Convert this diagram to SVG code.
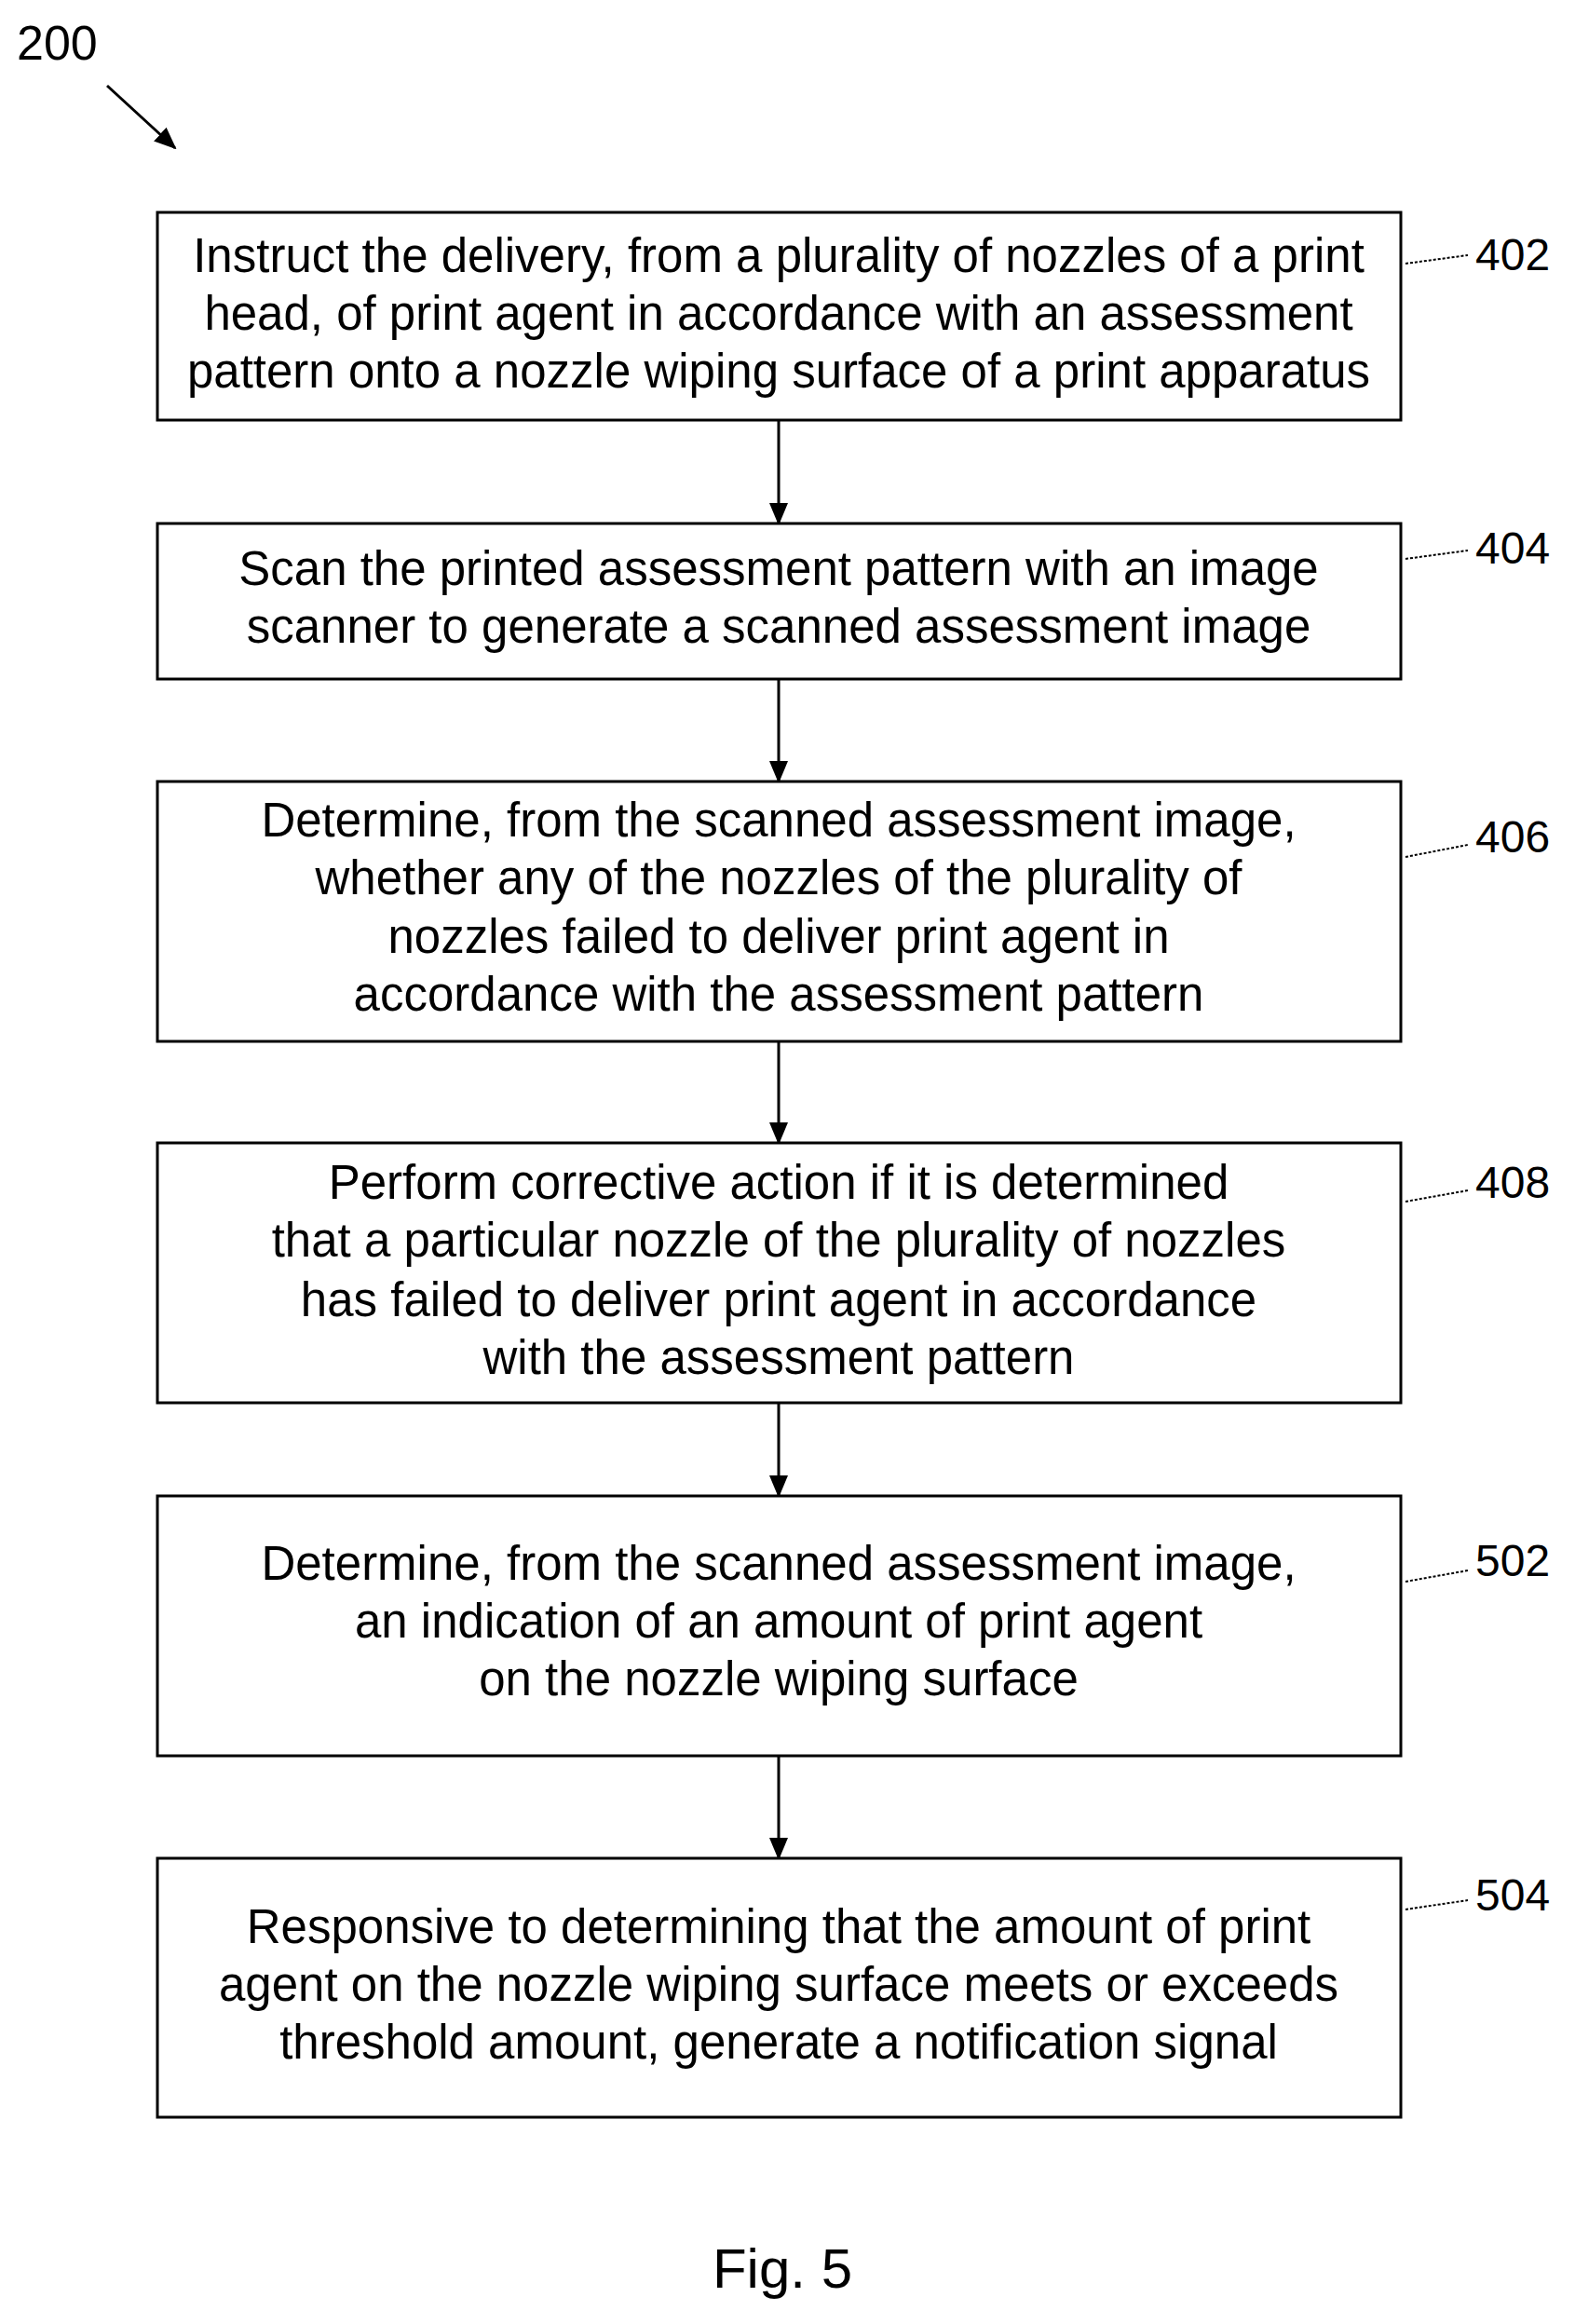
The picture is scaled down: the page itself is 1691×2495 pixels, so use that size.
<svg xmlns="http://www.w3.org/2000/svg" width="1691" height="2495" viewBox="0 0 1691 2495">
<style>
.b{fill:#fff;stroke:#000;stroke-width:3}
.t{font-family:"Liberation Sans",Arial,sans-serif;font-size:51px;text-anchor:middle;fill:#000}
.l{font-family:"Liberation Sans",Arial,sans-serif;font-size:48px;fill:#000}
.c{stroke:#000;stroke-width:3;fill:none}
.d{stroke:#000;stroke-width:2;fill:none;stroke-dasharray:3 2}
</style>
<defs><marker id="m" markerWidth="24" markerHeight="24" refX="22" refY="12" orient="auto" markerUnits="userSpaceOnUse" viewBox="0 0 24 24"><path d="M0,2L24,12L0,22z"/></marker></defs>
<rect width="1691" height="2495" fill="#fff"/>
<text class="l" x="18" y="64" style="font-size:52px">200</text>
<g id="connectors">
<path class="c" d="M115,92L188,159" marker-end="url(#m)"/>
<path class="c" d="M836,451V562" marker-end="url(#m)"/>
<path class="c" d="M836,729V839" marker-end="url(#m)"/>
<path class="c" d="M836,1118V1227" marker-end="url(#m)"/>
<path class="c" d="M836,1506V1606" marker-end="url(#m)"/>
<path class="c" d="M836,1885V1995" marker-end="url(#m)"/>
<path class="d" d="M1509,283L1576,274M1509,600L1576,591M1509,920L1576,907M1509,1290L1576,1278M1509,1698L1576,1686M1509,2050L1576,2040"/>
</g>
<g id="n402"><rect class="b" x="169" y="228" width="1335" height="223"/>
<text class="t" x="836" y="292">Instruct the delivery, from a plurality of nozzles of a print</text>
<text class="t" x="836" y="354">head, of print agent in accordance with an assessment</text>
<text class="t" x="836" y="416">pattern onto a nozzle wiping surface of a print apparatus</text>
<text class="l" x="1584" y="290">402</text></g>
<g id="n404"><rect class="b" x="169" y="562" width="1335" height="167"/>
<text class="t" x="836" y="628">Scan the printed assessment pattern with an image</text>
<text class="t" x="836" y="690">scanner to generate a scanned assessment image</text>
<text class="l" x="1584" y="605">404</text></g>
<g id="n406"><rect class="b" x="169" y="839" width="1335" height="279"/>
<text class="t" x="836" y="898">Determine, from the scanned assessment image,</text>
<text class="t" x="836" y="960">whether any of the nozzles of the plurality of</text>
<text class="t" x="836" y="1023">nozzles failed to deliver print agent in</text>
<text class="t" x="836" y="1085">accordance with the assessment pattern</text>
<text class="l" x="1584" y="915">406</text></g>
<g id="n408"><rect class="b" x="169" y="1227" width="1335" height="279"/>
<text class="t" x="836" y="1287">Perform corrective action if it is determined</text>
<text class="t" x="836" y="1349">that a particular nozzle of the plurality of nozzles</text>
<text class="t" x="836" y="1413">has failed to deliver print agent in accordance</text>
<text class="t" x="836" y="1475">with the assessment pattern</text>
<text class="l" x="1584" y="1286">408</text></g>
<g id="n502"><rect class="b" x="169" y="1606" width="1335" height="279"/>
<text class="t" x="836" y="1696">Determine, from the scanned assessment image,</text>
<text class="t" x="836" y="1758">an indication of an amount of print agent</text>
<text class="t" x="836" y="1820">on the nozzle wiping surface</text>
<text class="l" x="1584" y="1692">502</text></g>
<g id="n504"><rect class="b" x="169" y="1995" width="1335" height="278"/>
<text class="t" x="836" y="2086">Responsive to determining that the amount of print</text>
<text class="t" x="836" y="2148">agent on the nozzle wiping surface meets or exceeds</text>
<text class="t" x="836" y="2210">threshold amount, generate a notification signal</text>
<text class="l" x="1584" y="2051">504</text></g>
<text class="l" x="840" y="2456" style="font-size:60px;text-anchor:middle">Fig. 5</text>
</svg>
